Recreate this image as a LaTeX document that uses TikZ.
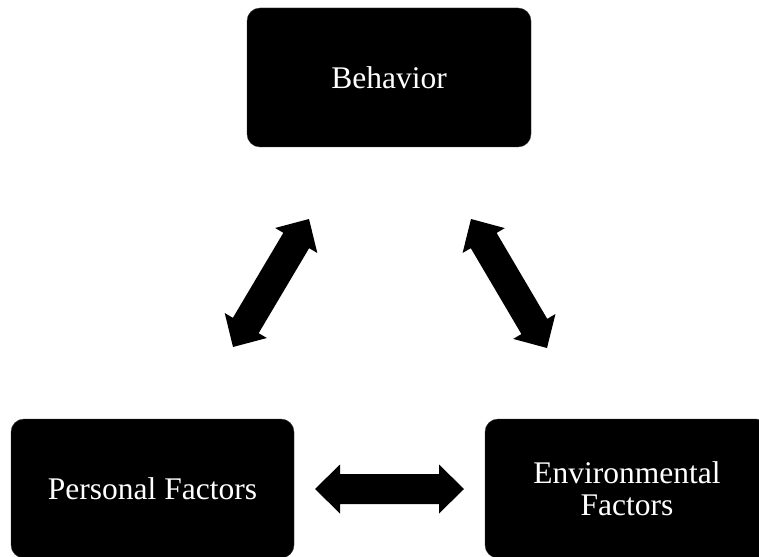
\documentclass[tikz,border=0pt]{standalone}
\usepackage{fontspec}
\setmainfont{Liberation Serif}
\usetikzlibrary{calc}
\tikzset{
  factorbox/.style={rectangle, fill=black, draw=black!80, line width=0.4pt, rounded corners=13pt,
    text=white, inner sep=0pt, align=center,
    font=\fontsize{31.5}{32}\selectfont},
}
% fat double arrow between two named coordinates
\newcommand{\fatdouble}[2]{%
  \path ($(#1)!25pt!(#2)$) coordinate (ha) ($(#2)!25pt!(#1)$) coordinate (hb);
  \fill[black] (#1) -- ($(ha)!24.5pt!90:(#2)$) -- ($(ha)!15pt!90:(#2)$)
    -- ($(hb)!15pt!-90:(#1)$) -- ($(hb)!24.5pt!-90:(#1)$) -- (#2)
    -- ($(hb)!24.5pt!90:(#1)$) -- ($(hb)!15pt!90:(#1)$)
    -- ($(ha)!15pt!-90:(#2)$) -- ($(ha)!24.5pt!-90:(#2)$) -- cycle;}
\begin{document}
\begin{tikzpicture}[x=1pt,y=-1pt]
\clip (0,0) rectangle (759,556);
\fill[white] (0,0) rectangle (759,556);
\node[factorbox, minimum width=284pt, minimum height=139pt] (beh) at (389,77.5) {Behavior};
\node[factorbox, minimum width=283pt, minimum height=139pt] (per) at (152.5,488.5) {Personal Factors};
\node[factorbox, minimum width=284pt, minimum height=139pt] (env) at (627,488.5) {Environmental\\Factors};
\coordinate (a1) at (233,347);
\coordinate (a2) at (309,219);
\coordinate (b1) at (471,219);
\coordinate (b2) at (547,348);
\coordinate (c1) at (315,489);
\coordinate (c2) at (464,489);
\fatdouble{a1}{a2}
\fatdouble{b1}{b2}
\fatdouble{c1}{c2}
\end{tikzpicture}
\end{document}
